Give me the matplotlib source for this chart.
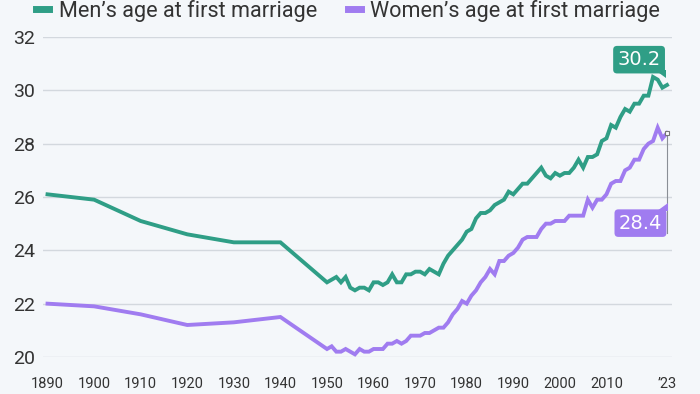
import matplotlib

matplotlib.use("Agg")
import matplotlib.pyplot as plt
from matplotlib.lines import Line2D
from matplotlib.patches import Polygon

plt.rcParams["font.family"] = ["Roboto", "DejaVu Sans"]

# median age at first marriage, US
years = [1890, 1900, 1910, 1920, 1930, 1940] + list(range(1950, 2024))

men_age = [
    26.1, 25.9, 25.1, 24.6, 24.3, 24.3,
    22.8, 22.9, 23.0, 22.8, 23.0, 22.6, 22.5, 22.6, 22.6, 22.5,
    22.8, 22.8, 22.7, 22.8, 23.1, 22.8, 22.8, 23.1, 23.1, 23.2,
    23.2, 23.1, 23.3, 23.2, 23.1, 23.5, 23.8, 24.0, 24.2, 24.4,
    24.7, 24.8, 25.2, 25.4, 25.4, 25.5, 25.7, 25.8, 25.9, 26.2,
    26.1, 26.3, 26.5, 26.5, 26.7, 26.9, 27.1, 26.8, 26.7, 26.9,
    26.8, 26.9, 26.9, 27.1, 27.4, 27.1, 27.5, 27.5, 27.6, 28.1,
    28.2, 28.7, 28.6, 29.0, 29.3, 29.2, 29.5, 29.5, 29.8, 29.8,
    30.5, 30.4, 30.1, 30.2,
]

women_age = [
    22.0, 21.9, 21.6, 21.2, 21.3, 21.5,
    20.3, 20.4, 20.2, 20.2, 20.3, 20.2, 20.1, 20.3, 20.2, 20.2,
    20.3, 20.3, 20.3, 20.5, 20.5, 20.6, 20.5, 20.6, 20.8, 20.8,
    20.8, 20.9, 20.9, 21.0, 21.1, 21.1, 21.3, 21.6, 21.8, 22.1,
    22.0, 22.3, 22.5, 22.8, 23.0, 23.3, 23.1, 23.6, 23.6, 23.8,
    23.9, 24.1, 24.4, 24.5, 24.5, 24.5, 24.8, 25.0, 25.0, 25.1,
    25.1, 25.1, 25.3, 25.3, 25.3, 25.3, 25.9, 25.6, 25.9, 25.9,
    26.1, 26.5, 26.6, 26.6, 27.0, 27.1, 27.4, 27.4, 27.8, 28.0,
    28.1, 28.6, 28.2, 28.4,
]

xtick_years = [1890, 1900, 1910, 1920, 1930, 1940, 1950, 1960, 1970, 1980,
               1990, 2000, 2010, 2023]
xtick_labels = ["1890", "1900", "1910", "1920", "1930", "1940", "1950", "1960",
                "1970", "1980", "1990", "2000", "2010", "\u201923"]
yticks = [20, 22, 24, 26, 28, 30, 32]

teal = "#2f9e86"
purple = "#a07cf0"
bg = "#f4f7fa"

fig = plt.figure(figsize=(7, 3.94), dpi=100, facecolor=bg)
# axes box in pixels: x 43..672, y 37..357
ax = fig.add_axes([43 / 700, 1 - 357 / 394, 629 / 700, 320 / 394], facecolor=bg)

ax.plot(years, men_age, color=teal, lw=2.8, solid_joinstyle="miter", zorder=3)
ax.plot(years, women_age, color=purple, lw=2.8, solid_joinstyle="miter", zorder=3)

ax.set_xlim(1889.03, 2024.07)
ax.set_ylim(20, 32)
ax.set_yticks(yticks)
ax.set_xticks(xtick_years)
ax.set_xticklabels(xtick_labels)
ax.grid(axis="y", color="#d3d8de", lw=1)
ax.grid(axis="x", visible=False)
ax.set_axisbelow(True)
for s in ax.spines.values():
    s.set_visible(False)
ax.tick_params(axis="both", length=0, colors="#333333")
ax.tick_params(axis="y", labelsize=14, pad=5.5)
ax.tick_params(axis="x", labelsize=10.5, pad=14.5)

# leader line from the women's last point to its label
ax.plot([years[-1], years[-1]], [women_age[-1], 24.65], color="#8a8f96", lw=0.8,
        zorder=2)
ax.plot([years[-1]], [women_age[-1]], marker="s", ms=3.5, mfc="white",
        mec="#777777", mew=0.8, zorder=4)

# value labels
ax.text(2017.0, 31.15, f"{men_age[-1]:.1f}", color="white", fontsize=14,
        family="DejaVu Sans", ha="center", va="center", zorder=5,
        bbox=dict(boxstyle="round,pad=0.22,rounding_size=0.2", fc=teal, ec="none"))
ax.text(2017.3, 25.02, f"{women_age[-1]:.1f}", color="white", fontsize=14,
        family="DejaVu Sans", ha="center", va="center", zorder=5,
        bbox=dict(boxstyle="round,pad=0.22,rounding_size=0.2", fc=purple, ec="none"))

# little tails on the label boxes (pixel coords, y from top)
tails = [([[655, 70], [666, 70], [666, 78]], teal),
         ([[657, 211], [668, 211], [668, 203]], purple)]
for pts, col in tails:
    poly = Polygon([[x, 394 - y] for x, y in pts], closed=True, fc=col, ec="none",
                   transform=None, zorder=5)
    fig.add_artist(poly)

handles = [Line2D([0], [0], color=teal, lw=5),
           Line2D([0], [0], color=purple, lw=5)]
fig.legend(handles, ["Men\u2019s age at first marriage",
                     "Women\u2019s age at first marriage"],
           loc="center left", bbox_to_anchor=(0.052, 0.972), ncol=2, frameon=False,
           fontsize=15.6, handlelength=0.6, handletextpad=0.45, columnspacing=1.4,
           labelcolor="#333333", borderpad=0, borderaxespad=0)

fig.savefig("out.png", dpi=100, facecolor=bg)
